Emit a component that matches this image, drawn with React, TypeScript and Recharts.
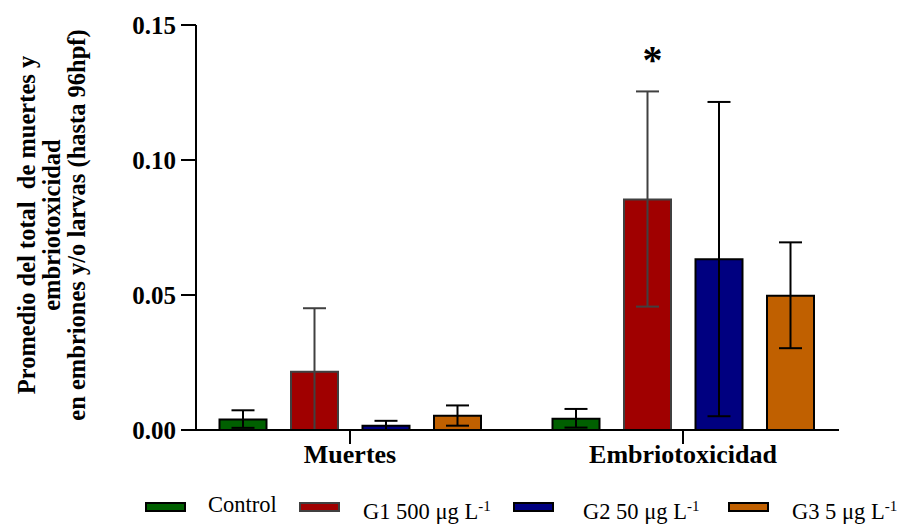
import { BarChart, Bar, XAxis, YAxis, ErrorBar, LabelList } from 'recharts';

const categories = ['Muertes', 'Embriotoxicidad'];
const controlMean = [0.0039, 0.0042];
const controlErr = [[0.0031, 0.0034], [0.0033, 0.0036]];
const g1Mean = [0.0216, 0.0854];
const g1Err = [[0.0216, 0.0235], [0.0397, 0.04]];
const g2Mean = [0.0016, 0.0632];
const g2Err = [[0.0016, 0.0018], [0.0581, 0.0583]];
const g3Mean = [0.0053, 0.0497];
const g3Err = [[0.0037, 0.0038], [0.0194, 0.0198]];
const significance = ['', '*'];
const sigLevel = 0.1322;
const yTicks = [0, 0.05, 0.1, 0.15];

const legendLabels = ['Control', 'G1 500 μg L', 'G2 50 μg L', 'G3 5 μg L'];
const legendSup = ['', '-1', '-1', '-1'];

// legend layout (px)
const legendSwatchLeft = [145, 299, 513, 728];
const legendTextLeft = [208, 363, 583, 792];

const colors = ['#006000', '#a00000', '#000080', '#c06000'];
const edges = ['#000', '#404040', '#000', '#000'];

const FONT = "'Liberation Serif', 'Times New Roman', serif";

const chartData = categories.map((name, i) => ({
  name,
  control: controlMean[i],
  controlErr: controlErr[i],
  g1: g1Mean[i],
  g1Err: g1Err[i],
  g2: g2Mean[i],
  g2Err: g2Err[i],
  g3: g3Mean[i],
  g3Err: g3Err[i],
  sig: significance[i],
}));

const series = [
  { key: 'control', err: 'controlErr' },
  { key: 'g1', err: 'g1Err' },
  { key: 'g2', err: 'g2Err' },
  { key: 'g3', err: 'g3Err' },
];

function YLabel() {
  return (
    <g transform="translate(0,225) rotate(-90)" fontFamily={FONT} fontWeight="bold" fontSize={24.5} fill="#000">
      <text x={0} y={35} textAnchor="middle" style={{ whiteSpace: 'pre' }}>Promedio del total  de muertes y</text>
      <text x={0} y={60} textAnchor="middle">embriotoxicidad</text>
      <text x={0} y={85} textAnchor="middle">en embriones y/o larvas (hasta 96hpf)</text>
    </g>
  );
}

function renderStar(p: any) {
  if (!p.value) return null;
  const idx = p.index ?? 1;
  const pxPerUnit = p.height / g1Mean[idx];
  const base = p.y + p.height - sigLevel * pxPerUnit;
  return (
    <text x={p.x + p.width / 2 + 5} y={base} textAnchor="middle" fontFamily={FONT} fontWeight="bold" fontSize={40} fill="#000">
      *
    </text>
  );
}

export default function App() {
  return (
    <div style={{ position: 'absolute', left: 0, top: 0, width: 901, height: 524, background: '#fff', fontFamily: FONT }}>
      <BarChart width={901} height={524} data={chartData} margin={{ top: 25, right: 62, bottom: 54, left: 96 }} barSize={47} barGap={24.5}>
        <XAxis
          dataKey="name"
          height={40}
          tickSize={14}
          tickMargin={1}
          padding={{ left: -12.5, right: -10.5 }}
          axisLine={{ stroke: '#000', strokeWidth: 2 }}
          tickLine={{ stroke: '#000', strokeWidth: 2 }}
          tick={{ fill: '#000', fontSize: 26, fontWeight: 'bold', fontFamily: FONT }}
        />
        <YAxis
          width={100}
          domain={[0, 0.15]}
          ticks={yTicks}
          tickFormatter={(v: number) => v.toFixed(2)}
          tickSize={15}
          tickMargin={5}
          axisLine={{ stroke: '#000', strokeWidth: 2 }}
          tickLine={{ stroke: '#000', strokeWidth: 2 }}
          tick={{ fill: '#000', fontSize: 25, fontWeight: 'bold', fontFamily: FONT }}
          label={{ content: () => <YLabel /> }}
        />
        {series.map((s, i) => (
          <Bar key={s.key} dataKey={s.key} fill={colors[i]} stroke={edges[i]} strokeWidth={2} isAnimationActive={false}>
            <ErrorBar dataKey={s.err} width={11.5} stroke={edges[i]} strokeWidth={2} direction="y" isAnimationActive={false} />
            {s.key === 'g1' && <LabelList dataKey="sig" content={renderStar} />}
          </Bar>
        ))}
      </BarChart>
      {legendLabels.map((label, i) => (
        <div key={label}>
          <div
            style={{
              position: 'absolute',
              left: legendSwatchLeft[i],
              top: 502,
              width: 37,
              height: 6,
              background: colors[i],
              border: `2px solid ${edges[i]}`,
            }}
          />
          <span
            style={{
              position: 'absolute',
              left: legendTextLeft[i],
              top: legendSup[i] ? 499 : 492,
              fontSize: 22.5,
              lineHeight: 'normal',
              color: '#000',
              whiteSpace: 'nowrap',
            }}
          >
            {label}
            {legendSup[i] && <sup style={{ fontSize: 15, lineHeight: 0 }}>{legendSup[i]}</sup>}
          </span>
        </div>
      ))}
    </div>
  );
}
